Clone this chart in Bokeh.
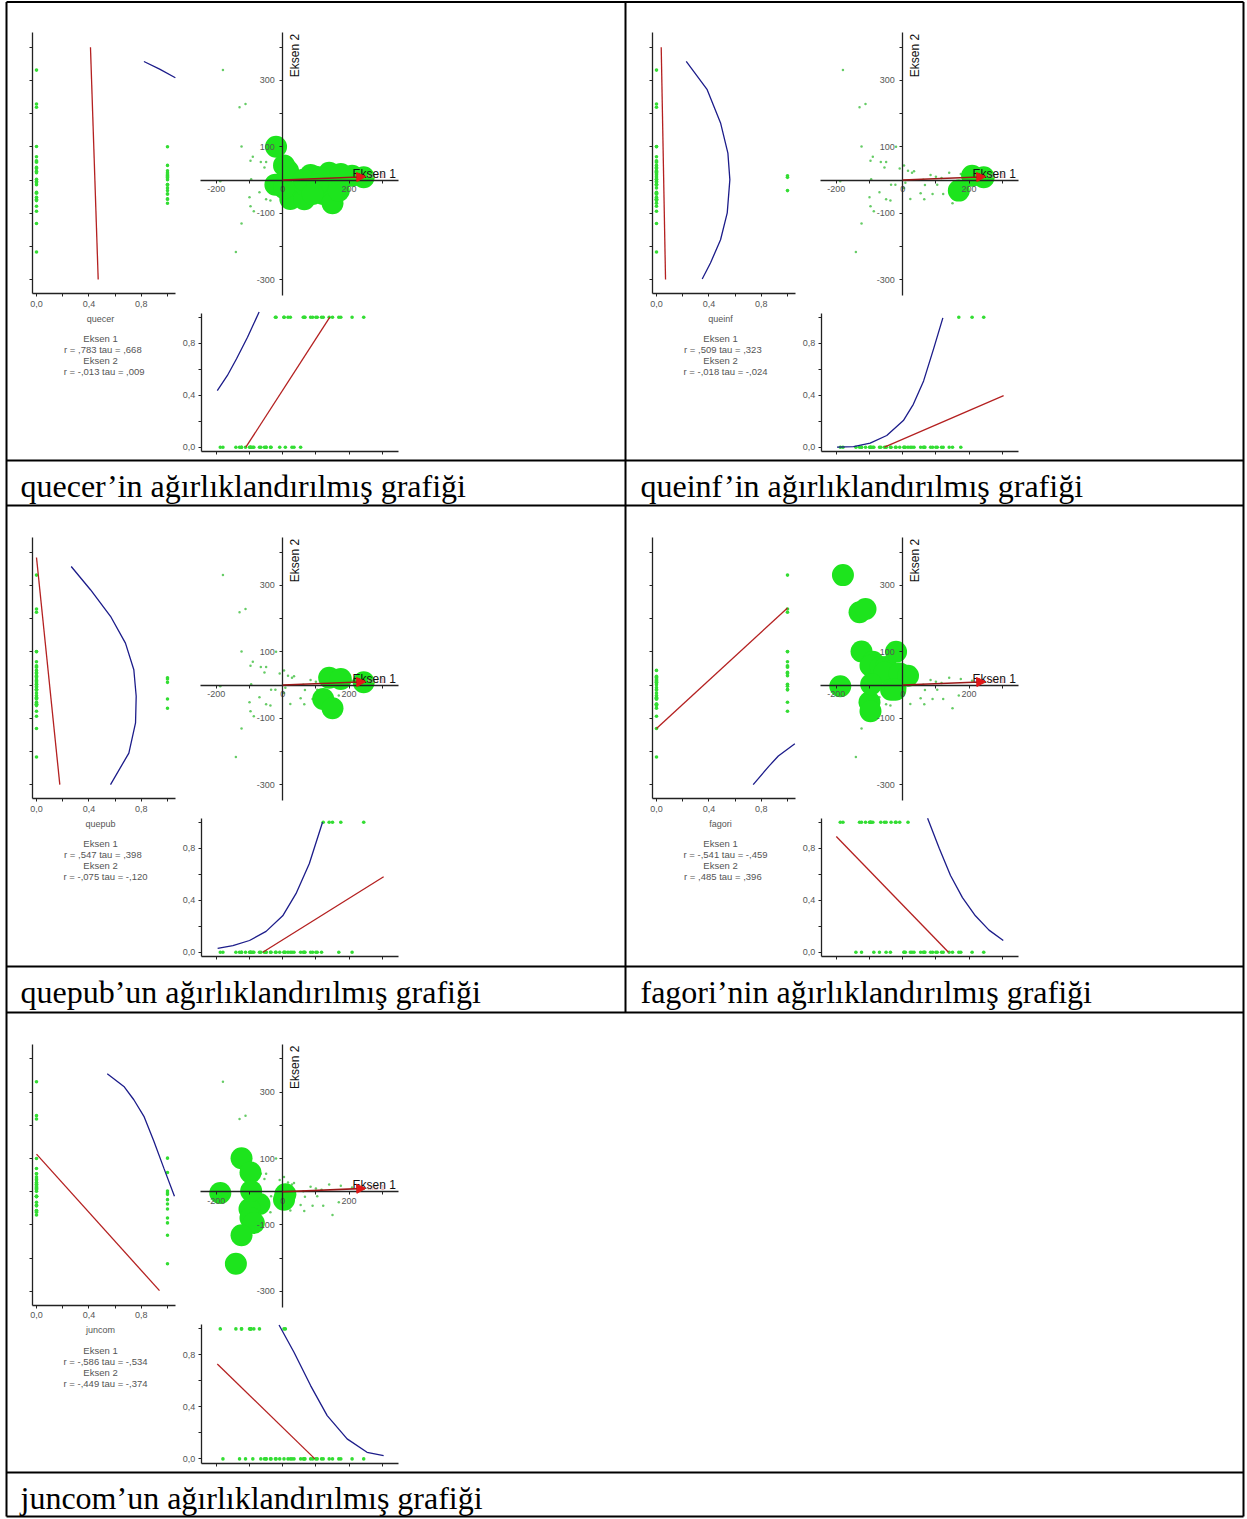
from math import pi
from bokeh.plotting import figure
from bokeh.models import (Range1d, LinearAxis, FixedTicker, CustomJSTickFormatter,
                          Arrow, NormalHead)
from bokeh.core.properties import value
from bokeh.embed import file_html
from bokeh.resources import INLINE

# ---------------------------------------------------------------- data
SPECIES = ["quecer", "queinf", "quepub", "fagori", "juncom"]
CAPTIONS = ["quecer\u2019in ağırlıklandırılmış grafiği",
            "queinf\u2019in ağırlıklandırılmış grafiği",
            "quepub\u2019un ağırlıklandırılmış grafiği",
            "fagori\u2019nin ağırlıklandırılmış grafiği",
            "juncom\u2019un ağırlıklandırılmış grafiği"]

# sample scores on the ordination (Eksen 1, Eksen 2)
SAMPLE_AX1 = [-180, -130, -112, -124, -90, -97, -66, -50, -55, -9, 4, 16, 28, 34,
              -188, -35, -22, -70, -100, -50, -37, -97, -87, -124, -141, 23, 54, 65,
              67, 84, 100, 140, 122, 62, 117, 104, 90, 150, 169, 209, 244, -20, 4,
              175, -95, 8]
SAMPLE_AX2 = [331, 219, 229, 101, 70, 58, 54, 54, 38, 35, 44, 28, 22, 26,
              -4, -14, -14, -37, -52, -58, -62, -79, -94, -131, -217, -57, -40, -58,
              -15, 15, 10, 22, -42, 1, 6, -14, -42, -70, -32, 13, 8, 100, -24,
              18, 2, -8]

# samples in which each species is present
QUECER_PRESENT = [10, 11, 16, 25, 27, 28, 29, 30, 31, 32, 33, 34, 35, 36, 37, 38,
                  39, 40, 41, 42, 43]
QUEINF_PRESENT = [38, 39, 40]
QUEPUB_PRESENT = [31, 32, 37, 40, 43]
FAGORI_PRESENT = [0, 1, 2, 3, 4, 5, 6, 7, 8, 9, 11, 14, 15, 16, 18, 21, 41, 44]
JUNCOM_PRESENT = [3, 5, 14, 17, 18, 21, 22, 23, 24, 42, 44, 45]
PRESENT = [QUECER_PRESENT, QUEINF_PRESENT, QUEPUB_PRESENT, FAGORI_PRESENT, JUNCOM_PRESENT]

AXIS1_STATS = ["r =  ,783 tau =  ,668", "r =  ,509 tau =  ,323", "r =  ,547 tau =  ,398",
               "r = -,541 tau = -,459", "r = -,586 tau = -,534"]
AXIS2_STATS = ["r = -,013 tau =  ,009", "r = -,018 tau = -,024", "r = -,075 tau = -,120",
               "r =  ,485 tau =  ,396", "r = -,449 tau = -,374"]

# joint-plot vector
ARROW_AX1 = 250
ARROW_AX2 = 10
ARROW_LABEL = "bio 1"

# fitted lines in the left panel (abundance vs Eksen 2)
LEFT_RED_AB = [[0.412, 0.471], [0.036, 0.069], [0.0, 0.178], [0.0, 1.0], [0.0, 0.939]]
LEFT_RED_AX2 = [[400, -300], [400, -300], [384, -300], [-131, 232], [113, -298]]
LEFT_BLUE_AB = [[0.82, 0.94, 1.06],
                [0.227, 0.387, 0.489, 0.545, 0.56, 0.54, 0.489, 0.412, 0.349],
                [0.265, 0.412, 0.565, 0.679, 0.743, 0.761, 0.756, 0.705, 0.565],
                [0.738, 0.857, 0.93, 1.056],
                [0.54, 0.667, 0.743, 0.82, 0.896, 0.972, 1.053]]
LEFT_BLUE_AX2 = [[357, 334, 308],
                 [357, 272, 172, 81, 1, -99, -180, -250, -298],
                 [357, 287, 207, 126, 46, -34, -114, -205, -300],
                 [-300, -245, -214, -177],
                 [355, 317, 277, 227, 152, 71, -14]]

# fitted lines in the bottom panel (Eksen 1 vs abundance)
BOTTOM_RED_AX1 = [[-111, 142], [-55, 304], [-60, 304], [-200, 138], [-197, 97]]
BOTTOM_RED_AB = [[0.0, 1.0], [0.0, 0.397], [0.0, 0.58], [0.89, 0.0], [0.73, 0.0]]
BOTTOM_BLUE_AX1 = [[-197, -167, -139, -106, -71],
                   [-198, -148, -98, -48, 2, 32, 63, 93, 121],
                   [-196, -150, -100, -50, 0, 40, 80, 120],
                   [75, 110, 144, 180, 219, 260, 303],
                   [-11, 34, 84, 134, 194, 254, 304]]
BOTTOM_BLUE_AB = [[0.436, 0.55, 0.68, 0.846, 1.04],
                  [0.0, 0.005, 0.031, 0.09, 0.205, 0.33, 0.51, 0.756, 0.995],
                  [0.03, 0.05, 0.09, 0.16, 0.28, 0.45, 0.68, 1.0],
                  [1.03, 0.8, 0.59, 0.42, 0.28, 0.17, 0.09],
                  [1.03, 0.82, 0.564, 0.333, 0.154, 0.051, 0.026]]

# ---------------------------------------------------------------- layout
FIG_W, FIG_H = 1246, 1518
PAGE_L, PAGE_T = 0, 0
PAGE_R, PAGE_B = PAGE_L + FIG_W, PAGE_T + FIG_H

CELL_ORIGINS = [(0, 0), (620, 0), (0, 505), (620, 505), (0, 1011.7)]
CAPTION_POS = [(20, 485), (640, 485), (20, 991), (640, 991), (20, 1497)]

AX1_ORIGIN, AX2_ORIGIN, ORD_PX = 282.2, 179.5, 0.332
AB_X0, AB_X_PX = 36.0, 131.0
AB_Y0, AB_Y_PX = 446.7, 130.0

SANS = "Liberation Sans"
GRAY = "#555555"
AXCOL = "#222222"
GREEN = "#1de41d"
DOT_GREEN = "#33dd33"
RED = "#b42020"
BLUE = "#1c1c8a"

p = figure(width=FIG_W, height=FIG_H, title=None,
           x_range=Range1d(PAGE_L, PAGE_R), y_range=Range1d(PAGE_B, PAGE_T),
           output_backend="svg", toolbar_location=None,
           x_axis_location=None, y_axis_location=None, min_border=0,
           outline_line_color=None, background_fill_color="white",
           border_fill_color="white")
p.grid.visible = False


def xr(origin_px, ppu):
    return Range1d(start=(PAGE_L - origin_px) / ppu, end=(PAGE_R - origin_px) / ppu)


def yr(origin_px, ppu):
    return Range1d(start=(origin_px - PAGE_B) / ppu, end=(origin_px - PAGE_T) / ppu)


comma_fmt = CustomJSTickFormatter(code="return tick.toFixed(1).replace('.', ',');")
int_fmt = CustomJSTickFormatter(code="return tick.toFixed(0);")


def add_axis(side, xname, yname, loc, bounds, ticks, minor, fmt=None, standoff=4):
    ax = LinearAxis(x_range_name=xname, y_range_name=yname, fixed_location=loc,
                    bounds=bounds, ticker=FixedTicker(ticks=ticks, minor_ticks=minor),
                    axis_line_color=AXCOL, axis_line_width=1.3,
                    major_tick_line_color=AXCOL, minor_tick_line_color=AXCOL,
                    major_tick_out=3, major_tick_in=0, minor_tick_out=3, minor_tick_in=0,
                    major_label_text_font=SANS, major_label_text_font_size="9px",
                    major_label_text_color=GRAY, major_label_standoff=standoff)
    if fmt is not None:
        ax.formatter = fmt
    p.add_layout(ax, side)


xranges, yranges = {}, {}
for k, (ox, oy) in enumerate(CELL_ORIGINS):
    xranges[f"o1_{k}"] = xr(ox + AX1_ORIGIN, ORD_PX)
    yranges[f"o2_{k}"] = yr(oy + AX2_ORIGIN, ORD_PX)
    xranges[f"ax_{k}"] = xr(ox + AB_X0, AB_X_PX)
    yranges[f"ay_{k}"] = yr(oy + AB_Y0, AB_Y_PX)
p.extra_x_ranges = xranges
p.extra_y_ranges = yranges


def u_ax1(px):
    return (px - AX1_ORIGIN) / ORD_PX


def u_ax2(py):
    return (AX2_ORIGIN - py) / ORD_PX


def u_abx(px):
    return (px - AB_X0) / AB_X_PX


def u_aby(py):
    return (AB_Y0 - py) / AB_Y_PX


for k, (ox, oy) in enumerate(CELL_ORIGINS):
    o1, o2, axn, ayn = f"o1_{k}", f"o2_{k}", f"ax_{k}", f"ay_{k}"
    pres = set(PRESENT[k])
    flag = [1 if i in pres else 0 for i in range(len(SAMPLE_AX1))]
    b1 = [SAMPLE_AX1[i] for i in PRESENT[k]]
    b2 = [SAMPLE_AX2[i] for i in PRESENT[k]]

    # ---- centre ordination
    p.scatter(SAMPLE_AX1, SAMPLE_AX2, x_range_name=o1, y_range_name=o2,
              size=2.5, color="#66cc66", line_color=None)
    p.scatter(b1, b2, x_range_name=o1, y_range_name=o2, size=22,
              fill_color=GREEN, line_color=None)
    add_axis("below", o1, o2, 0, (u_ax1(200), u_ax1(398)), [-200, 0, 200],
             [-100, 100, 300], int_fmt, standoff=3)
    add_axis("left", o1, o2, 0, (u_ax2(295), u_ax2(32)), [-300, -100, 100, 300],
             [-200, 0, 200, 400], int_fmt, standoff=5)
    p.add_layout(Arrow(x_start=0, y_start=0, x_end=ARROW_AX1, y_end=ARROW_AX2,
                       x_range_name=o1, y_range_name=o2, line_color="#9c1a1a",
                       line_width=1.6,
                       end=NormalHead(size=9, fill_color="#e01818", line_color="#e01818")))
    p.text([ox + 367], [oy + 175], [ARROW_LABEL], text_font=value(SANS),
           text_font_size=value("8px"), text_color="#e5a3a3",
           text_align="left", text_baseline="alphabetic")
    p.text([ox + 352], [oy + 173], ["Eksen 1"], text_font=value(SANS),
           text_font_size=value("12px"), text_color="#111111",
           text_align="left", text_baseline="alphabetic")
    p.text([ox + 294], [oy + 55], ["Eksen 2"], text_font=value(SANS),
           text_font_size=value("12px"), text_color="#111111", angle=pi / 2,
           text_align="center", text_baseline="middle")

    # ---- left panel (abundance vs Eksen 2)
    p.scatter(flag, SAMPLE_AX2, x_range_name=axn, y_range_name=o2, size=3.6,
              color=DOT_GREEN, line_color=None)
    p.line(LEFT_RED_AB[k], LEFT_RED_AX2[k], x_range_name=axn, y_range_name=o2,
           line_color=RED, line_width=1.3)
    p.line(LEFT_BLUE_AB[k], LEFT_BLUE_AX2[k], x_range_name=axn, y_range_name=o2,
           line_color=BLUE, line_width=1.3)
    add_axis("below", axn, o2, u_ax2(293), (u_abx(32), u_abx(175)), [0, 0.4, 0.8],
             [0.2, 0.6, 1.0], comma_fmt, standoff=4)
    add_axis("left", axn, o2, u_abx(32), (u_ax2(293), u_ax2(32)), [],
             [-300, -200, -100, 0, 100, 200, 300, 400])

    p.text([ox + 100], [oy + 318], [SPECIES[k]], text_font=value(SANS),
           text_font_size=value("9px"), text_color=GRAY,
           text_align="center", text_baseline="middle")
    p.text([ox + 100, ox + 105, ox + 100, ox + 105],
           [oy + 338, oy + 349, oy + 360, oy + 371],
           ["Eksen 1", AXIS1_STATS[k], "Eksen 2", AXIS2_STATS[k]],
           text_font=value(SANS), text_font_size=value("9.5px"), text_color=GRAY,
           text_align="center", text_baseline="middle")

    # ---- bottom panel (Eksen 1 vs abundance)
    p.scatter(SAMPLE_AX1, flag, x_range_name=o1, y_range_name=ayn, size=3.6,
              color=DOT_GREEN, line_color=None)
    p.line(BOTTOM_RED_AX1[k], BOTTOM_RED_AB[k], x_range_name=o1, y_range_name=ayn,
           line_color=RED, line_width=1.3)
    p.line(BOTTOM_BLUE_AX1[k], BOTTOM_BLUE_AB[k], x_range_name=o1, y_range_name=ayn,
           line_color=BLUE, line_width=1.3)
    add_axis("below", o1, ayn, u_aby(451), (u_ax1(200.7), u_ax1(398)), [],
             [-200, -100, 0, 100, 200, 300])
    add_axis("left", o1, ayn, u_ax1(200.7), (u_aby(451), u_aby(312.7)), [0, 0.4, 0.8],
             [0.2, 0.6, 1.0], comma_fmt, standoff=3)

# ---- captions
p.text([c[0] for c in CAPTION_POS], [c[1] for c in CAPTION_POS], CAPTIONS,
       text_font=value("Liberation Serif"), text_font_size=value("32px"),
       text_color="black", text_align="left", text_baseline="alphabetic")

# ---- table rules
TL, TR, TT, TB, TMID = 6, 1243, 1.5, 1516, 625
hy = [TT, 460, 505, 966, 1012, 1472, TB]
p.segment([TL] * len(hy), hy, [TR] * len(hy), hy, line_color="black", line_width=2)
p.segment([TL, TR, TMID], [TT, TT, TT], [TL, TR, TMID], [TB, TB, 1012],
          line_color="black", line_width=2)

open("out.html", "w").write(file_html(p, INLINE))
